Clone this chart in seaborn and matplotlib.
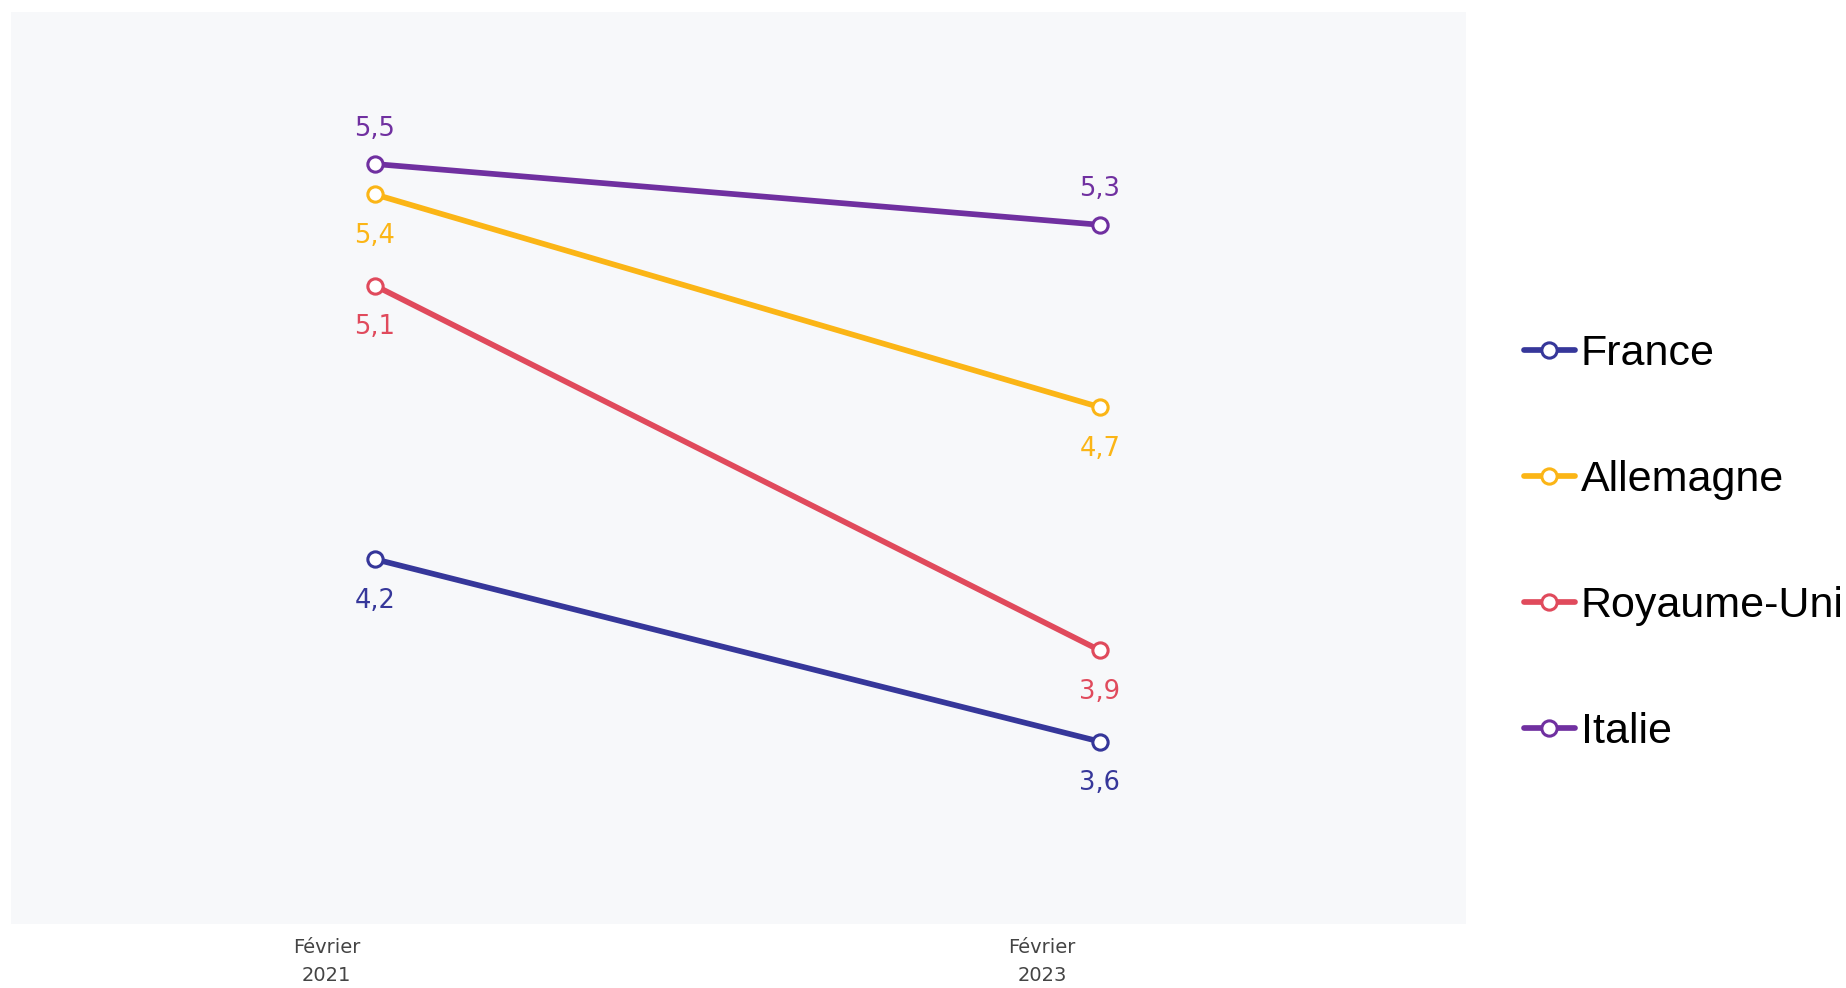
import pandas as pd
import matplotlib.pyplot as plt
import seaborn as sns

periods = [0, 1]
tick_labels = ['Février\n2021', 'Février\n2023']
countries = ['France', 'Allemagne', 'Royaume-Uni', 'Italie']
france = [4.2, 3.6]
allemagne = [5.4, 4.7]
royaume_uni = [5.1, 3.9]
italie = [5.5, 5.3]
colors = ['#36379a', '#fbb516', '#e04a5c', '#7030a0']

df = pd.DataFrame({
    'periode': periods * 4,
    'pays': [c for c in countries for _ in periods],
    'valeur': france + allemagne + royaume_uni + italie,
})

sns.set_style('white')
plt.rcParams['font.family'] = ['DejaVu Sans']

fig = plt.figure(figsize=(18.46, 9.88), dpi=100)
ax = fig.add_axes([11 / 1846, 1 - 924 / 988, (1466 - 11) / 1846, (924 - 12) / 988])
ax.set_facecolor('#f7f8fa')

sns.lineplot(data=df, x='periode', y='valeur', hue='pays', hue_order=countries,
             palette=colors, marker='o', markersize=11, markerfacecolor='white',
             markeredgewidth=2.2, linewidth=4.1, legend=False, ax=ax)
for line in ax.lines:
    line.set_markeredgecolor(line.get_color())
    line.set_solid_capstyle('round')

# labels au-dessus pour l'Italie, en dessous pour les autres
above = {'Italie': True}
for (pays, col) in zip(countries, colors):
    sub = df[df['pays'] == pays]
    for x, v in zip(sub['periode'], sub['valeur']):
        dy = 25.5 if above.get(pays) else -30
        ax.annotate(f'{v:.1f}'.replace('.', ','), (x, v), xytext=(0, dy),
                    textcoords='offset points', ha='center', va='center',
                    fontsize=18.5, color=col)

ax.set_xlim(-0.502, 1.505)
ax.set_ylim(3.0, 6.0)
ax.set_xticks([-0.0666, 0.920])
ax.set_xticklabels(tick_labels, fontsize=14, color='#444444', linespacing=1.6)
ax.tick_params(axis='x', length=0, pad=10)
ax.set_yticks([])
ax.set_xlabel('')
ax.set_ylabel('')
sns.despine(ax=ax, left=True, bottom=True)

leg = fig.legend(ax.lines, countries, loc='center left', bbox_to_anchor=(1524 / 1846, 0.4505),
                 frameon=False, borderpad=0, borderaxespad=0, handlelength=1.18,
                 handletextpad=0.14, labelspacing=2.0,
                 prop={'family': 'Liberation Sans', 'size': 31})
for t in leg.get_texts():
    t.set_color('black')

fig.savefig('out.png', dpi=100)
